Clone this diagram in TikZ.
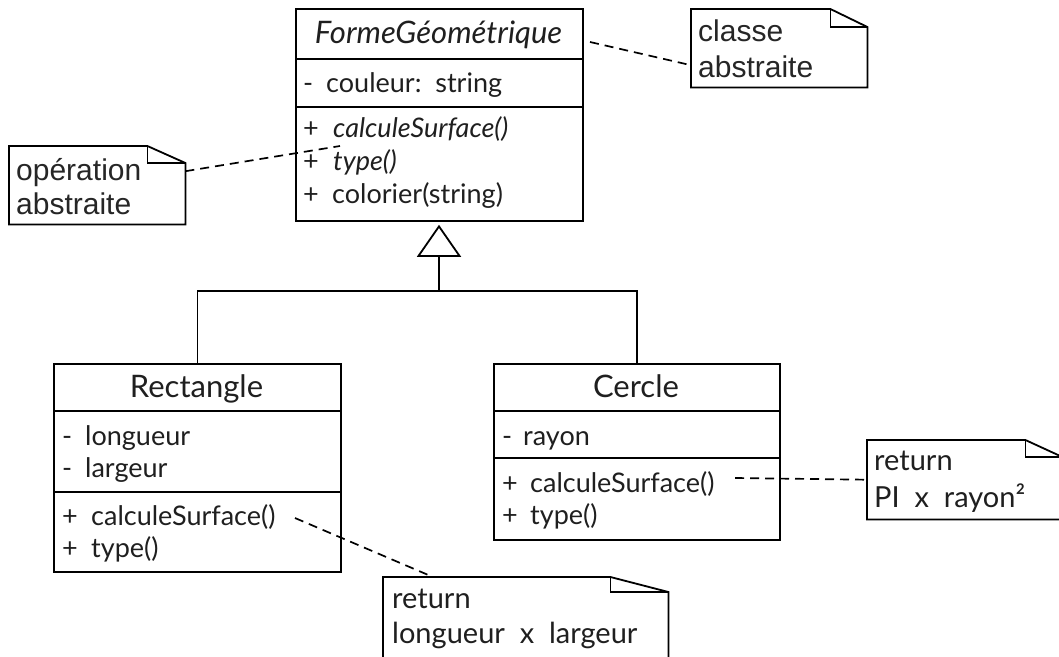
\documentclass[tikz,border=0pt]{standalone}
\usepackage{fontspec}
\setmainfont{Lato}
\newfontfamily\notesans{Liberation Sans}
\usetikzlibrary{arrows.meta}
\newcommand\rowfont{\fontsize{27}{32}\selectfont}
\newcommand\titlefont{\fontsize{31}{36}\selectfont}
\newcommand\retfont{\fontsize{29}{34}\selectfont}
\newcommand\tagfont{\notesans\fontsize{30}{36}\selectfont}
% folded-corner outline of a UML note: node name, fold width, fold height
\newcommand\notefold[3]{%
  \draw[noteline] (#1.north west) -- ([xshift=-#2pt]#1.north east)
    -- ([yshift=-#3pt]#1.north east) -- (#1.south east) -- (#1.south west) -- cycle;
  \draw[noteline] ([xshift=-#2pt]#1.north east) -- ([xshift=-#2pt,yshift=-#3pt]#1.north east)
    -- ([yshift=-#3pt]#1.north east);}
\begin{document}
\begin{tikzpicture}[x=1pt,y=-1pt,
  box/.style={draw=black, line width=1.8pt, inner sep=0pt, anchor=north west},
  divider/.style={line width=1.8pt},
  row/.style={anchor=base west, inner sep=0pt, font=\rowfont, text=black!88},
  title/.style={anchor=base, inner sep=0pt, font=\titlefont, text=black!88},
  ret/.style={anchor=base west, inner sep=0pt, font=\retfont, text=black!88},
  tag/.style={anchor=base west, inner sep=0pt, font=\tagfont, text=black!85},
  notebox/.style={inner sep=0pt, anchor=north west},
  noteline/.style={line width=1.8pt, line join=miter},
  link/.style={dash pattern=on 9pt off 6pt, line width=1.7pt},
  gen/.style={line width=1.8pt}]
\useasboundingbox (0,0) rectangle (1059,656);
\clip (0,0) rectangle (1059,656);

% ---- abstract class FormeGeometrique
\node[box, minimum width=287pt, minimum height=212pt] (forme) at (295,8) {};
\draw[divider] (295,59) -- (582,59);
\draw[divider] (295,107) -- (582,107);
\node[title, font=\titlefont\itshape] (forme-name) at (438.5,43) {FormeGéométrique};
\node[row] (forme-a1) at (303,92) {\makebox[23pt][l]{-}couleur:\ \ string};
\node[row] (forme-m1) at (303,137) {\makebox[30pt][l]{+}\textit{calculeSurface()}};
\node[row] (forme-m2) at (303,170) {\makebox[30pt][l]{+}\textit{type()}};
\node[row] (forme-m3) at (303,203) {\makebox[29pt][l]{+}colorier(string)};

% ---- class Rectangle
\node[box, minimum width=287pt, minimum height=208pt] (rect) at (53,363) {};
\draw[divider] (53,411) -- (340,411);
\draw[divider] (53,492) -- (340,492);
\node[title] (rect-name) at (196.5,397) {Rectangle};
\node[row] (rect-a1) at (62,445) {\makebox[23pt][l]{-}longueur};
\node[row] (rect-a2) at (62,477) {\makebox[23pt][l]{-}largeur};
\node[row] (rect-m1) at (62,525) {\makebox[29pt][l]{+}calculeSurface()};
\node[row] (rect-m2) at (62,557) {\makebox[29pt][l]{+}type()};

% ---- class Cercle
\node[box, minimum width=286pt, minimum height=176pt] (cercle) at (493,363) {};
\draw[divider] (493,411) -- (779,411);
\draw[divider] (493,458) -- (779,458);
\node[title] (cercle-name) at (636,397) {Cercle};
\node[row] (cercle-a1) at (502,445) {\makebox[21pt][l]{-}rayon};
\node[row] (cercle-m1) at (502,492) {\makebox[28pt][l]{+}calculeSurface()};
\node[row] (cercle-m2) at (502,524) {\makebox[28pt][l]{+}type()};

% ---- generalisation
\coordinate (gen-join) at (439,291);
\draw[gen] (rect.north) |- (gen-join) -| (cercle.north);
\draw[gen, shorten >=3pt, -{Triangle[open, length=32pt, width=44pt, line width=1.8pt]}]
  (gen-join) -- (gen-join |- forme.south);

% ---- notes
\node[notebox, minimum width=176pt, minimum height=78pt] (classe) at (691,9) {};
\notefold{classe}{37}{18}
\node[tag] (classe-l1) at (698,41) {classe};
\node[tag] (classe-l2) at (698,77) {abstraite};

\node[notebox, minimum width=176pt, minimum height=78pt] (oper) at (9,146) {};
\notefold{oper}{38}{17}
\node[tag] (oper-l1) at (16,180) {opération};
\node[tag] (oper-l2) at (16,214) {abstraite};

\node[notebox, minimum width=195pt, minimum height=79pt] (rnote) at (867,440) {};
\notefold{rnote}{37}{17}
\node[ret] (rnote-l1) at (874,470) {return};
\node[ret] (rnote-l2) at (874,507) {PI\ \ x\ \ rayon²};

\node[notebox, minimum width=285pt, minimum height=100pt] (bnote) at (383,577) {};
\notefold{bnote}{58}{15}
\node[ret] (bnote-l1) at (392,608) {return};
\node[ret] (bnote-l2) at (392,643) {longueur\ \ x\ \ largeur};

% ---- note links
\coordinate (forme-tag) at (590,42);
\draw[link] (forme-tag) -- ([yshift=-17pt]classe.west);
\coordinate (forme-op) at (340,146);
\draw[link] ([yshift=14pt]oper.east) -- (forme-op);
\coordinate (cercle-op) at (735,478);
\draw[link] (cercle-op) -- (rnote.west);
\coordinate (rect-op) at (295,518);
\draw[link] (rect-op) -- ([xshift=50pt]bnote.north west);
\end{tikzpicture}
\end{document}
